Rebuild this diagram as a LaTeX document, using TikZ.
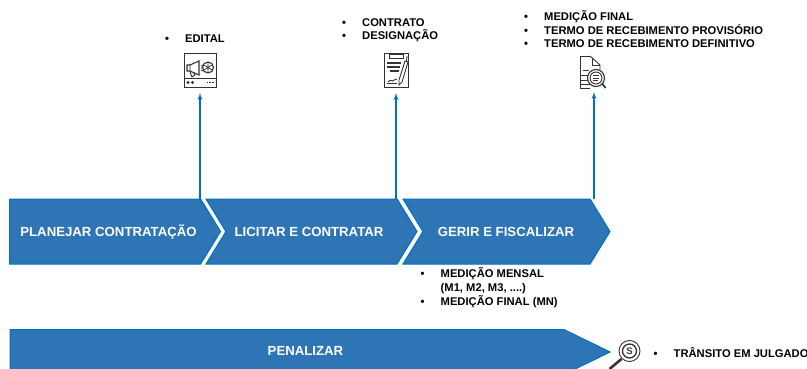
\documentclass[tikz,border=0pt]{standalone}
\usepackage{fontspec}
\setmainfont{Liberation Sans}
\usepackage{tikz}
\usetikzlibrary{shapes.symbols,arrows,positioning}
\definecolor{stepfill}{HTML}{2E75B6}
\definecolor{stepline}{HTML}{0070C0}
\definecolor{icongray}{HTML}{333333}
\tikzstyle{stepdata} = [draw=stepline, fill=stepfill, line width=1pt, shape=signal, signal to=east, inner sep=0pt, outer sep=0pt, minimum height=65pt]
\tikzstyle{steplabel} = [text=white, inner sep=0pt, font=\fontsize{13.2}{15}\selectfont\bfseries]
\tikzstyle{listdata} = [anchor=north west, inner sep=0pt, align=left, text=black, font=\fontsize{11.2}{13.9}\selectfont\bfseries]
\tikzstyle{icondata} = [draw=icongray, line width=0.9pt, inner sep=0pt, outer sep=0pt, minimum width=32pt, minimum height=34pt]
\tikzstyle{ghostdata} = [inner sep=0pt, outer sep=0pt, minimum width=24pt, minimum height=24pt]
\tikzstyle{arrow} = [draw, line width=1.3pt, color=stepline, -latex', shorten >=6pt]
\tikzstyle{iconline} = [draw=icongray, line width=0.9pt]
\newcommand{\stepdata}[3]{node (s#1) [stepdata, #2] {#3}}
\newcommand{\steplabel}[2]{node (l#1) [steplabel] {#2}}
\newcommand{\listdata}[2]{node (t#1) [listdata] {#2}}
\newcommand{\bul}{\makebox[20pt][l]{\textbullet}}
\begin{document}
\begin{tikzpicture}[x=1pt,y=-1pt]
\clip (0,0) rectangle (807,369);
\path (105.1,231.5) \stepdata{1}{minimum width=211pt, signal pointer angle=117}{};
\path (311.5,231.5) \stepdata{2}{minimum width=211pt, signal from=west, signal pointer angle=117}{};
\path (506.5,231.5) \stepdata{3}{minimum width=207pt, signal from=west, signal pointer angle=117}{};
\path (287,352) \stepdata{4}{minimum width=600pt, minimum height=45pt, signal pointer angle=52}{};
\path (s1)+(3.4,0) \steplabel{1}{PLANEJAR CONTRATAÇÃO};
\path (s2)+(-2.5,0) \steplabel{2}{LICITAR E CONTRATAR};
\path (s3)+(-0.5,0) \steplabel{3}{GERIR E FISCALIZAR};
\path (s4)+(18.5,-1) \steplabel{4}{PENALIZAR};

\node (i1) [icondata] at (200,70) {};
\node (i2) [icondata, minimum width=24pt] at (396,70) {};
\node (i3) [ghostdata] at (594,72) {};

% ficha do edital
\begin{scope}[shift={(i1.center)}]
\path [iconline] (-16,8) -- (16,8);
\fill [icongray] (-12,12.5) circle (1.7) (-7.5,12.5) circle (1.7);
\path [iconline,line width=0.6pt,densely dotted] (7,12.5) -- (14,12.5);
\path [iconline,line width=1.1pt] (-13,-5) -- (-10,-5) -- (-1,-9) -- (-1,5) -- (-10,1) -- (-13,1) -- cycle;
\path [iconline] (-10,-5) -- (-10,1) (-10,1.5) -- (-8,7) -- (-5,5) -- (-6.5,2.5);
\path [iconline,line width=0.7pt] (1,-4) -- (3,-5) (1,-2) -- (3,-2) (1,0) -- (3,1);
\path [iconline,line width=1.1pt] (8,-2.5) circle (5.5);
\path [iconline,line width=0.7pt] (4,-5) -- (12,0) (8,-8) -- (8,3) (4,0) -- (12,-5);
\end{scope}

% contrato
\begin{scope}[shift={(i2.center)}]
\path [iconline] (-7,-15.5) rectangle (7,-12);
\path [iconline,line width=1.5pt] (-9,-7) -- (5,-7) (-9,-3) -- (4,-3) (-6,1) -- (3,1);
\path [iconline] (-9,13) -- (1,13);
\path [iconline] (-8,12) .. controls (-5,8) and (-4,13) .. (-2,10) .. controls (-1,9) and (0,10) .. (1,9);
\path [iconline,fill=white] (9,-9) -- (12,-8) -- (6,12) -- (3,15) -- (3,10) -- cycle;
\path [iconline] (11,-14) -- (10.5,-8);
\end{scope}

% termo de recebimento
\begin{scope}[shift={(i3.center)}]
\path [iconline] (-4,-16) -- (-14,-16) -- (-14,16) -- (-4,16);
\path [iconline] (-4,-16) -- (6,-7) -- (6,-2);
\path [iconline] (-2,-14) -- (-2,-7) -- (6,-7);
\path [iconline] (-11,-2) -- (-5,-2) (-14,3) -- (-3,3) (-14,8) -- (-4,8) (-14,12) -- (-4,12);
\path [iconline,fill=white,line width=1.1pt] (2,6) circle (8.5);
\path [iconline] (2,6) circle (6);
\path [iconline] (-1,3.5) -- (5,3.5) (-1,6) -- (5,6) (-1,8.5) -- (4,8.5);
\path [iconline,line width=1.7pt] (8.5,12) -- (11.5,16);
\end{scope}

% transito em julgado
\node (i4) [ghostdata] at (629.5,351) {};
\begin{scope}[shift={(i4.center)}]
\path [iconline] (0,0) circle (10.5);
\path [iconline,line width=1.3pt] (0,0) circle (7);
\node (m4) [inner sep=0pt, text=icongray, font=\fontsize{9.5}{9.5}\selectfont\bfseries] at (0,0) {S};
\path [iconline,line width=2.6pt] (-8,8) -- (-20,18);
\end{scope}

\path (s1.north -| i1.south) edge [arrow] (i1.south);
\path (s2.north -| i2.south) edge [arrow] (i2.south);
\path (s3.north -| i3.south) edge [arrow,shorten >=0pt] (i3.south |- 0,92);

\path (165,34.5) \listdata{1}{\bul EDITAL};
\path (342,18) \listdata{2}{\bul CONTRATO\\\bul DESIGNAÇÃO};
\path (524,10) \listdata{3}{\bul MEDIÇÃO FINAL\\\bul TERMO DE RECEBIMENTO PROVISÓRIO\\\bul TERMO DE RECEBIMENTO DEFINITIVO};
\path (420.5,267.5) \listdata{4}{\bul MEDIÇÃO MENSAL\\\hspace*{20pt}(M1, M2, M3, ....)\\\bul MEDIÇÃO FINAL (MN)};
\path (653.5,347) \listdata{5}{\bul TRÂNSITO EM JULGADO};
\end{tikzpicture}
\end{document}
